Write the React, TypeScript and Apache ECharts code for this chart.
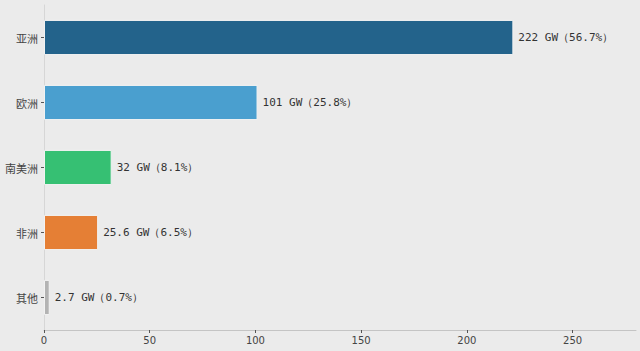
import React, { useEffect, useRef } from "react";
import * as echarts from "echarts";

const categories = ["亚洲", "欧洲", "南美洲", "非洲", "其他"];
const values = [222, 101, 32, 25.6, 2.7];
const shares = ["56.7%", "25.8%", "8.1%", "6.5%", "0.7%"];
const colors = ["#23638b", "#4a9fcf", "#36c073", "#e57f35", "#b3b3b3"];
const xTicks = [0, 50, 100, 150, 200, 250];

export default function App() {
  const ref = useRef<HTMLDivElement>(null);
  useEffect(() => {
    const chart = echarts.init(ref.current!, null, { renderer: "svg" });
    chart.setOption({
      animation: false,
      backgroundColor: "#ebebeb",
      grid: { left: 44, right: 4, top: 5, bottom: 21, containLabel: false },
      xAxis: {
        type: "value",
        min: 0,
        max: 280,
        interval: 50,
        axisLine: { show: true, lineStyle: { color: "#c4c4c4", width: 1 } },
        axisTick: { show: true, length: 3, customValues: xTicks, lineStyle: { color: "#555" } },
        splitLine: { show: false },
        axisLabel: {
          color: "#444",
          fontSize: 10,
          margin: 5,
          fontFamily: "DejaVu Sans",
          customValues: xTicks,
        },
      },
      yAxis: {
        type: "category",
        data: categories,
        inverse: true,
        axisLine: { show: true, lineStyle: { color: "#d6d6d6", width: 1 } },
        axisTick: { show: true, length: 3, alignWithLabel: true, lineStyle: { color: "#555" } },
        axisLabel: { color: "#444", fontSize: 11, margin: 6, fontFamily: "Noto Sans CJK SC" },
      },
      series: [
        {
          type: "bar",
          data: values.map((v, i) => ({
            value: v,
            itemStyle: { color: colors[i], borderColor: "#f2f2f2", borderWidth: 1 },
          })),
          barWidth: "54%",
          label: {
            show: true,
            position: "right",
            distance: 5,
            color: "#333",
            fontSize: 11,
            fontFamily: "DejaVu Sans Mono",
            formatter: (p: any) => `${values[p.dataIndex]} GW（${shares[p.dataIndex]}）`,
          },
        },
      ],
    });
    return () => chart.dispose();
  }, []);
  return <div ref={ref} style={{ width: 640, height: 351, position: "absolute", left: 0, top: 0 }} />;
}
